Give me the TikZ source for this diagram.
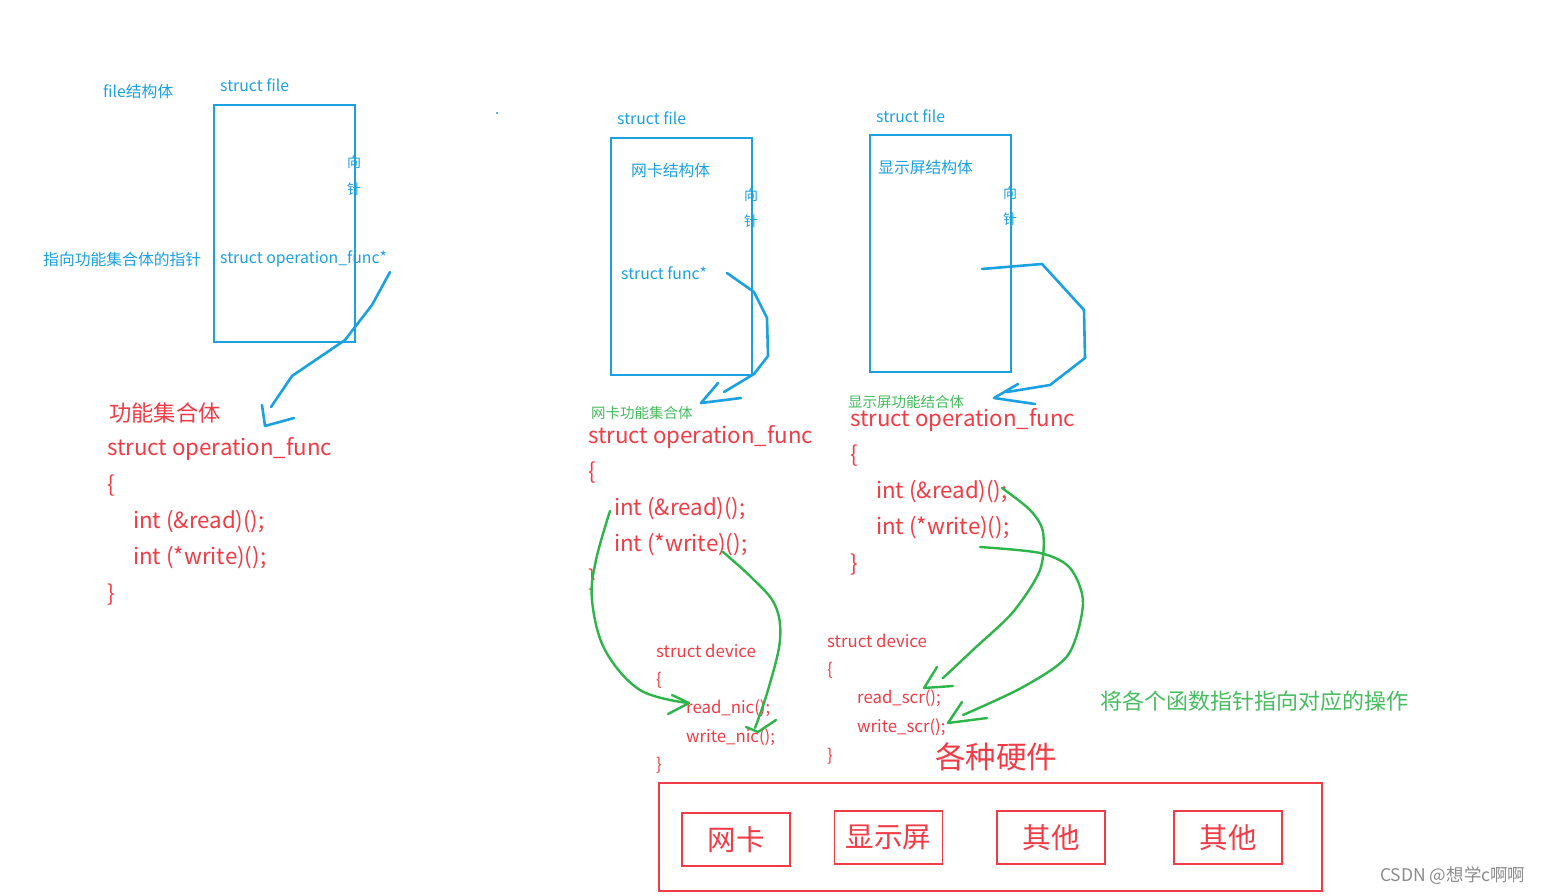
\documentclass[tikz,border=0pt]{standalone}
\usepackage{fontspec}
\setmainfont{Noto Sans CJK SC}
\definecolor{cblue}{HTML}{1BA1E2}
\definecolor{cred}{HTML}{F03C46}
\definecolor{cgreen}{HTML}{2DB54A}
\definecolor{lgreen}{HTML}{45BC5E}
\tikzset{
  t/.style={anchor=west,inner sep=0pt},
  bt/.style={t,text=cblue,font=\fontsize{15.8}{18}\selectfont},
  rt/.style={t,text=cred,font=\fontsize{22.3}{26}\selectfont},
  st/.style={t,text=cred,font=\fontsize{16.8}{20}\selectfont},
  gt/.style={t,text=lgreen,font=\fontsize{14.5}{17}\selectfont},
  vt/.style={anchor=center,inner sep=0pt,text=cblue,font=\fontsize{14}{16}\selectfont},
  bbox/.style={draw=cblue,line width=2.4pt},
  rbox/.style={draw=cred,line width=1.8pt},
  bstroke/.style={draw=cblue,line width=2.6pt,line cap=round,line join=round},
  gstroke/.style={draw=cgreen,line width=2.4pt,line cap=round,line join=round},
  hw/.style={draw=cred,line width=1.8pt,minimum width=108pt,minimum height=53pt,inner sep=0pt,text=cred,font=\fontsize{28.5}{32}\selectfont}
}
\begin{document}
\begin{tikzpicture}[x=1pt,y=-1pt]
\useasboundingbox[fill=white] (0,0) rectangle (1551,895);

% ---------- left column ----------
\node[bt] (f1) at (103,91) {file结构体};
\node[bt] (sf1) at (220,85) {struct file};
\draw[bbox] (214,105) rectangle (355,342);
\node[vt] (x1a) at (354,162) {向};
\node[vt] (x1b) at (354,189) {针};
\node[bt] (p1) at (43,259) {指向功能集合体的指针};
\node[bt] (op1) at (220,259) {struct operation\_func*};
\draw[bstroke] (390,272) -- (372,305) -- (345,340) -- (292,376) -- (271,407);
\draw[bstroke] (262,405) -- (265,426) -- (294,418);
\fill[cblue] (497,113) circle (1.2);

\node[rt] (g1) at (109,413) {功能集合体};
\node[rt] (s1) at (107,449) {struct operation\_func};
\node[rt] (b1) at (107,486) {\{};
\node[rt] (r1) at (133,522) {int (\&read)();};
\node[rt] (w1) at (133,558) {int (*write)();};
\node[rt] (e1) at (107,595) {\}};

% ---------- middle column ----------
\node[bt] (sf2) at (617,118) {struct file};
\draw[bbox] (611,138) rectangle (752,375);
\node[bt] (nk) at (631,170) {网卡结构体};
\node[vt] (x2a) at (751,195) {向};
\node[vt] (x2b) at (751,221) {针};
\node[bt] (fn2) at (621,273) {struct func*};
\draw[bstroke] (727,273) -- (754,292) -- (767,318) -- (768,356) -- (754,374) -- (724,392);
\draw[bstroke] (718,383) -- (701,403) -- (741,398);
\node[gt] (g2) at (591,413) {网卡功能集合体};
\node[rt] (s2) at (588,437) {struct operation\_func};
\node[rt] (b2) at (588,473) {\{};
\node[rt] (r2) at (614,509) {int (\&read)();};
\node[rt] (w2) at (614,545) {int (*write)();};
\node[rt] (e2) at (588,580) {\}};
\node[st] (d2) at (656,651) {struct device};
\node[st] (db2) at (656,680) {\{};
\node[st] (rn) at (686,708) {read\_nic();};
\node[st] (wn) at (686,737) {write\_nic();};
\node[st] (de2) at (656,765) {\}};
\draw[gstroke] plot[smooth,tension=0.6] coordinates {(610,511) (596,560) (592,600) (605,650) (640,690) (688,703)};
\draw[gstroke] (672,695) -- (689,703) -- (668,714);
\draw[gstroke] plot[smooth,tension=0.6] coordinates {(723,552) (752,578) (775,605) (780,640) (768,690) (755,728)};
\draw[gstroke] (746,727) -- (758,732) -- (776,720);

% ---------- right column ----------
\node[bt] (sf3) at (876,116) {struct file};
\draw[bbox] (870,135) rectangle (1011,372);
\node[bt] (xs) at (878,167) {显示屏结构体};
\node[vt] (x3a) at (1010,193) {向};
\node[vt] (x3b) at (1010,219) {针};
\draw[bstroke] (982,269) -- (1042,264) -- (1084,310) -- (1085,358) -- (1050,385) -- (1007,392);
\draw[bstroke] (1018,384) -- (994,398) -- (1035,404);
\node[gt] (g3) at (848,402) {显示屏功能结合体};
\node[rt] (s3) at (850,420) {struct operation\_func};
\node[rt] (b3) at (850,456) {\{};
\node[rt] (r3) at (876,492) {int (\&read)();};
\node[rt] (w3) at (876,528) {int (*write)();};
\node[rt] (e3) at (850,565) {\}};
\node[st] (d3) at (827,641) {struct device};
\node[st] (db3) at (827,670) {\{};
\node[st] (rs) at (857,698) {read\_scr();};
\node[st] (ws) at (857,727) {write\_scr();};
\node[st] (de3) at (827,756) {\}};
\draw[gstroke] plot[smooth,tension=0.5] coordinates {(1002,488) (1030,510) (1043,532) (1040,570) (1013,612) (975,648) (943,678)};
\draw[gstroke] (937,667) -- (924,688) -- (953,686);
\draw[gstroke] plot[smooth,tension=0.5] coordinates {(980,547) (1040,553) (1070,568) (1083,603) (1068,655) (1023,687) (963,715)};
\draw[gstroke] (962,702) -- (948,723) -- (987,718);

% ---------- hardware ----------
\node[t,text=cred,font=\fontsize{30.5}{35}\selectfont] (hw) at (935,757) {各种硬件};
\node[t,text=lgreen,font=\fontsize{22}{26}\selectfont] (note) at (1100,701) {将各个函数指针指向对应的操作};
\draw[rbox] (659,783) rectangle (1322,891);
\node[hw] (h1) at (736,839.5) {网卡};
\node[hw] (h2) at (888.5,837.5) {显示屏};
\node[hw] (h3) at (1051,837.5) {其他};
\node[hw] (h4) at (1228,837.5) {其他};

\node[t,text=black!45,font=\fontsize{17.5}{20}\selectfont] (wm) at (1380,876) {CSDN @想学c啊啊};
\end{tikzpicture}
\end{document}
